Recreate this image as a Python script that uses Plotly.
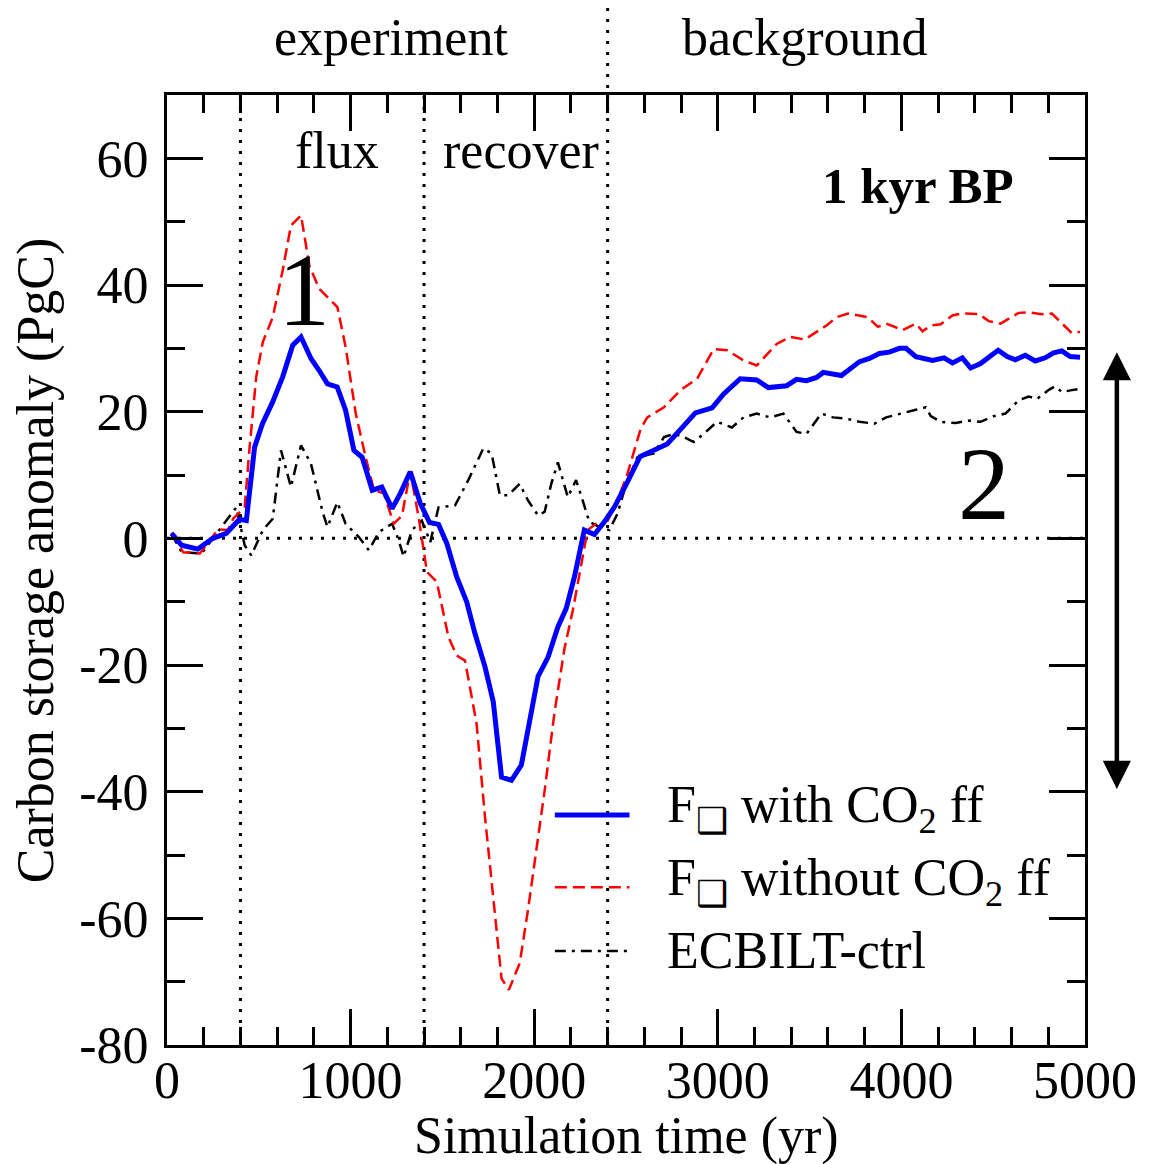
import plotly.graph_objects as go

# ---------------- data ----------------
blue_t = [25, 80, 168, 250, 323, 395, 432, 477, 520, 575, 630, 685, 730, 784, 829, 874, 927, 973, 1018, 1063,
          1118, 1170, 1226, 1271, 1325, 1380, 1430, 1479, 1524, 1578, 1632, 1677, 1732, 1777, 1822, 1876, 1930,
          1975, 2021, 2075, 2129, 2174, 2219, 2273, 2328, 2382, 2436, 2508, 2576, 2652, 2725, 2797, 2878, 2969,
          3032, 3122, 3212, 3276, 3375, 3429, 3483, 3538, 3574, 3673, 3772, 3826, 3880, 3934, 3989, 4025, 4079,
          4170, 4232, 4278, 4332, 4377, 4431, 4476, 4527, 4576, 4621, 4675, 4729, 4783, 4829, 4874, 4919, 4973]
blue_v = [0.8, -1.1, -1.7, 0.0, 0.8, 3.0, 2.8, 14.4, 18.1, 21.5, 25.5, 30.5, 31.8, 28.4, 26.5, 24.4, 23.9, 20.2,
          13.9, 12.8, 7.6, 8.1, 4.7, 7.1, 10.5, 5.5, 2.5, 2.2, -0.8, -6.1, -10.0, -15.0, -20.3, -25.8, -37.7,
          -38.2, -35.8, -28.7, -21.8, -18.8, -14.0, -11.1, -6.1, 1.3, 0.6, 2.6, 4.9, 8.9, 12.9, 13.9, 14.9, 17.2,
          19.8, 20.6, 22.8, 25.2, 25.0, 23.8, 24.1, 25.1, 24.9, 25.4, 26.2, 25.7, 27.9, 28.4, 29.2, 29.4, 30.0,
          30.0, 28.7, 28.1, 28.5, 27.7, 28.5, 26.9, 27.6, 28.6, 29.7, 28.7, 28.2, 28.9, 28.0, 28.5, 29.3, 29.6,
          28.7, 28.6]

red_t = [25, 88, 179, 278, 332, 360, 423, 450, 486, 522, 576, 630, 675, 730, 775, 829, 928, 973, 1028, 1082,
         1127, 1181, 1235, 1280, 1325, 1370, 1416, 1470, 1533, 1578, 1623, 1686, 1732, 1777, 1822, 1862, 1921,
         1966, 2011, 2057, 2111, 2165, 2210, 2255, 2291, 2336, 2400, 2454, 2508, 2580, 2616, 2707, 2797, 2887,
         2978, 3050, 3140, 3212, 3321, 3393, 3474, 3538, 3592, 3646, 3709, 3817, 3872, 3917, 4007, 4079, 4115,
         4160, 4214, 4278, 4332, 4422, 4476, 4540, 4639, 4693, 4765, 4820, 4874, 4928, 4973]
red_v = [0.9, -2.2, -2.4, 1.4, 1.3, 3.1, 4.9, 14.4, 25.5, 31.0, 34.9, 42.3, 49.4, 51.0, 43.1, 39.4, 36.5, 30.2,
         19.7, 12.8, 7.6, 7.1, 2.3, 3.6, 10.6, 3.4, -5.3, -6.9, -15.6, -18.5, -19.3, -29.2, -44.0, -57.1, -69.5,
         -71.3, -67.1, -58.7, -49.2, -39.8, -27.4, -17.4, -11.4, -4.0, 1.3, 2.3, 2.8, 6.0, 10.2, 17.3, 19.1, 20.7,
         23.4, 25.2, 29.9, 29.7, 28.1, 27.3, 30.7, 31.8, 31.4, 32.6, 33.6, 34.9, 35.5, 34.9, 33.4, 33.9, 32.9,
         33.9, 32.7, 33.6, 33.8, 35.2, 35.5, 35.4, 34.3, 33.9, 35.6, 35.7, 35.4, 35.5, 33.9, 32.4, 32.6]

ctrl_t = [25, 80, 188, 278, 378, 423, 459, 522, 576, 621, 675, 730, 784, 847, 874, 928, 973, 1045, 1100, 1154,
          1226, 1262, 1289, 1334, 1388, 1434, 1479, 1569, 1641, 1723, 1768, 1813, 1858, 1921, 1966, 2021, 2057,
          2093, 2129, 2183, 2228, 2264, 2300, 2355, 2409, 2454, 2499, 2562, 2652, 2707, 2761, 2815, 2869, 2923,
          2996, 3077, 3140, 3212, 3285, 3357, 3429, 3483, 3564, 3628, 3700, 3772, 3853, 3917, 4007, 4079, 4133,
          4160, 4214, 4296, 4368, 4431, 4503, 4567, 4639, 4693, 4738, 4801, 4837, 4874, 4928, 4973]
ctrl_v = [0.7, -2.2, -2.4, 1.0, 4.9, -1.1, -2.7, 1.3, 3.1, 13.9, 8.1, 14.7, 11.8, 4.2, 1.8, 5.7, 2.3, 0.2, -1.9,
          1.0, 2.3, -0.3, -2.9, 1.3, 2.8, -0.6, 4.9, 5.2, 9.2, 14.2, 13.4, 6.8, 6.8, 8.6, 6.0, 3.6, 4.2, 8.6, 12.0,
          6.5, 9.2, 6.0, 2.6, 1.8, 1.3, 3.9, 8.4, 12.8, 13.4, 16.0, 16.5, 16.0, 15.2, 16.5, 18.4, 17.5, 19.1, 19.7,
          19.1, 19.7, 16.8, 16.5, 19.7, 19.1, 18.9, 18.4, 18.1, 19.1, 19.7, 20.3, 20.7, 19.3, 18.4, 18.2, 18.6,
          18.4, 19.3, 19.7, 21.8, 22.4, 22.0, 23.4, 24.0, 23.1, 23.4, 23.6]

series_names = ["F<sub>❑</sub> with CO<sub>2</sub> ff",
                "F<sub>❑</sub> without CO<sub>2</sub> ff",
                "ECBILT-ctrl"]
x_tick_vals = [0, 1000, 2000, 3000, 4000, 5000]
x_tick_text = ["0", "1000", "2000", "3000", "4000", "5000"]
y_tick_vals = [-80, -60, -40, -20, 0, 20, 40, 60]
y_tick_text = ["-80", "-60", "-40", "-20", "0", "20", "40", "60"]
phase_edges = [400, 1400, 2400]
arrow_range = [29.4, -39.8]

FONT = "Liberation Serif, Times New Roman, serif"
FS = 52

fig = go.Figure()
fig.add_trace(go.Scatter(x=ctrl_t, y=ctrl_v, mode="lines", name=series_names[2], showlegend=False,
                         line=dict(color="black", width=2.5, dash="11px,6px,3px,6px")))
fig.add_trace(go.Scatter(x=red_t, y=red_v, mode="lines", name=series_names[1], showlegend=False,
                         line=dict(color="#ff0000", width=2.5, dash="12px,6px")))
fig.add_trace(go.Scatter(x=blue_t, y=blue_v, mode="lines", name=series_names[0], showlegend=False,
                         line=dict(color="#0000ff", width=5)))

dot = dict(color="black", width=3, dash="3px,8px")
shapes = []
for i, xe in enumerate(phase_edges):
    shapes.append(dict(type="line", xref="x", yref="paper", x0=xe, x1=xe, y0=0,
                       y1=1.1 if i == 2 else 1, line=dot, layer="below"))
shapes.append(dict(type="line", xref="paper", yref="y", x0=0, x1=1, y0=0, y1=0, line=dot, layer="below"))

# manual legend
leg_line_y = [0.242, 0.166, 0.099]
leg_text_y = [0.249, 0.172, 0.099]
leg_styles = [dict(color="#0000ff", width=5),
              dict(color="#ff0000", width=2.5, dash="12px,6px"),
              dict(color="black", width=2.5, dash="11px,6px,3px,6px")]
annotations = []
for name, ly, ty, st in zip(series_names, leg_line_y, leg_text_y, leg_styles):
    shapes.append(dict(type="line", xref="paper", yref="paper", x0=0.4225, x1=0.5038, y0=ly, y1=ly, line=st))
    annotations.append(dict(xref="paper", yref="paper", x=0.5428, y=ty, text=name, showarrow=False,
                            xanchor="left", yanchor="middle", font=dict(family=FONT, size=FS, color="black")))

def txt(x, y, s, size=FS, xref="x", yref="y", bold=False):
    annotations.append(dict(xref=xref, yref=yref, x=x, y=y, text=("<b>%s</b>" % s) if bold else s,
                            showarrow=False, xanchor="center", yanchor="middle",
                            font=dict(family=FONT, size=size, color="black")))

txt(1219, 1.06, "experiment", yref="paper")
txt(3472, 1.06, "background", yref="paper")
txt(926, 61.2, "flux")
txt(1928, 61.2, "recover")
txt(4090, 55.6, "1 kyr BP", size=51, bold=True)
txt(748, 39.3, "1", size=104)
txt(4451, 8.7, "2", size=104)
txt(0.5, -0.096, "Simulation time (yr)", xref="paper", yref="paper")
annotations.append(dict(xref="paper", yref="paper", x=-0.143, y=0.51, text="Carbon storage anomaly (PgC)",
                        textangle=-90, showarrow=False, xanchor="center", yanchor="middle",
                        font=dict(family=FONT, size=FS, color="black")))

# double arrow
annotations.append(dict(xref="paper", yref="y", x=1.0347, y=arrow_range[0], axref="pixel", ax=0,
                        ayref="y", ay=arrow_range[1], text="", showarrow=True, arrowside="end+start",
                        arrowhead=2, arrowsize=1.25, arrowwidth=4.5, arrowcolor="black",
                        standoff=0, startstandoff=0))

axis_common = dict(showline=True, linecolor="black", linewidth=3, mirror="ticks", ticks="inside",
                   ticklen=36, tickwidth=2.5, tickcolor="black", showgrid=False, zeroline=False,
                   tickmode="array", tickfont=dict(family=FONT, size=FS, color="black"))

fig.update_layout(
    width=1149, height=1164,
    margin=dict(l=167, r=59, t=95, b=119),
    paper_bgcolor="white", plot_bgcolor="white",
    shapes=shapes, annotations=annotations,
    xaxis=dict(range=[0, 5000], tickvals=x_tick_vals, ticktext=x_tick_text, ticklabelstandoff=-12,
               minor=dict(tickmode="linear", tick0=0, dtick=200, ticklen=18, tickwidth=2.5,
                          tickcolor="black", ticks="inside"),
               **axis_common),
    yaxis=dict(range=[-80, 70], tickvals=y_tick_vals, ticktext=y_tick_text, ticklabelstandoff=5,
               minor=dict(tickmode="linear", tick0=0, dtick=10, ticklen=18, tickwidth=2.5,
                          tickcolor="black", ticks="inside"),
               **axis_common),
)

fig.write_html("out.html")
